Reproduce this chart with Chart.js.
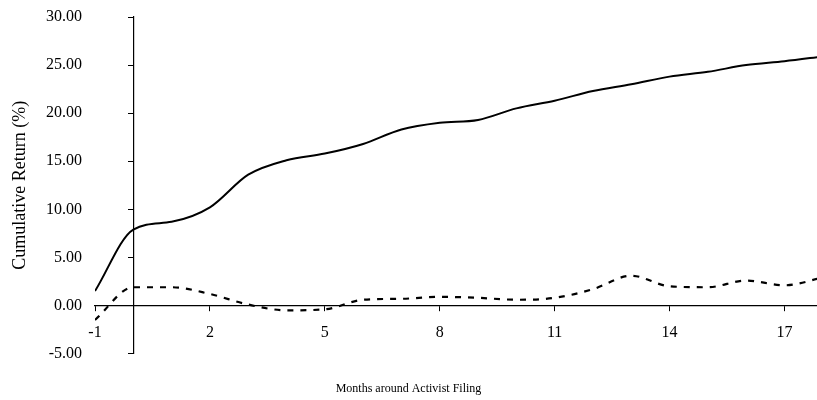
<!DOCTYPE html>
<html>
<head>
<meta charset="utf-8">
<script src="https://cdn.jsdelivr.net/npm/chart.js@4"></script>
<style>
  body { margin: 0; background: #fff; }
</style>
</head>
<body>
<canvas id="returnChart" width="817" height="400"></canvas>
<script>
let months = [-1, 0, 1, 2, 3, 4, 5, 6, 7, 8, 9, 10, 11, 12, 13, 14, 15, 16, 17, 18];
let solidReturns = [1.5, 7.9, 8.7, 10.2, 13.6, 15.1, 15.8, 16.8, 18.3, 19.0, 19.3, 20.5, 21.3, 22.3, 23.0, 23.8, 24.3, 25.0, 25.4, 25.9];
let dashedReturns = [-1.5, 1.9, 1.9, 1.2, 0.1, -0.5, -0.4, 0.6, 0.7, 0.9, 0.8, 0.6, 0.8, 1.7, 3.1, 2.0, 1.9, 2.6, 2.1, 2.9];
let xTickValues = [-1, 2, 5, 8, 11, 14, 17];
let yTickValues = [-5, 0, 5, 10, 15, 20, 25, 30];

let serif = '"Liberation Serif", "Times New Roman", serif';

let toPoints = (values) => months.map((m, i) => ({ x: m, y: values[i] }));
let setTicks = (values) => (axis) => { axis.ticks = values.map(v => ({ value: v })); };

let ctx = document.getElementById('returnChart').getContext('2d');

let chart = new Chart(ctx, {
    type: 'line',
    data: {
        datasets: [{
            data: toPoints(solidReturns),
            borderColor: '#000',
            borderWidth: 2,
            pointRadius: 0,
            cubicInterpolationMode: 'monotone'
        }, {
            data: toPoints(dashedReturns),
            borderColor: '#000',
            borderWidth: 2.2,
            borderDash: [6, 7],
            pointRadius: 0,
            cubicInterpolationMode: 'monotone'
        }]
    },
    options: {
        responsive: false,
        animation: false,
        layout: { padding: { top: 17, right: 0, bottom: 0, left: 0 } },
        plugins: {
            legend: { display: false },
            tooltip: { enabled: false },
            title: {
                display: true,
                position: 'bottom',
                text: 'Months around Activist Filing',
                color: '#000',
                font: { family: serif, size: 12, weight: 'normal' },
                padding: { top: 28, bottom: 4 }
            }
        },
        scales: {
            x: {
                type: 'linear',
                position: { y: 0 },
                min: -1,
                max: 17.85,
                afterBuildTicks: setTicks(xTickValues),
                ticks: { color: '#000', font: { family: serif, size: 16 }, padding: 13 },
                grid: { drawOnChartArea: false, tickLength: 5, color: '#000' },
                border: { color: '#000', width: 1.2 }
            },
            y: {
                type: 'linear',
                position: 'left',
                min: -5,
                max: 30,
                afterBuildTicks: setTicks(yTickValues),
                afterFit: (axis) => {
                    // fixed label column; keep the plot top set by layout padding only
                    axis.width = 95;
                    axis.paddingTop = 0;
                    axis.paddingBottom = 0;
                },
                ticks: {
                    color: '#000',
                    font: { family: serif, size: 16 },
                    padding: 13,
                    callback: (v) => v.toFixed(2)
                },
                grid: { display: false, drawTicks: false },
                border: { display: false },
                title: {
                    display: true,
                    text: 'Cumulative Return (%)',
                    color: '#000',
                    font: { family: serif, size: 18 },
                    padding: { top: 9, bottom: 0 }
                }
            },
            // vertical axis line drawn at month 0
            yZero: {
                axis: 'y',
                type: 'linear',
                position: { x: 0 },
                min: -5,
                max: 30,
                afterBuildTicks: setTicks(yTickValues),
                ticks: { display: false },
                grid: { drawOnChartArea: false, tickLength: 5, color: '#000' },
                border: { color: '#000', width: 1.2 }
            }
        }
    }
});
</script>
</body>
</html>
